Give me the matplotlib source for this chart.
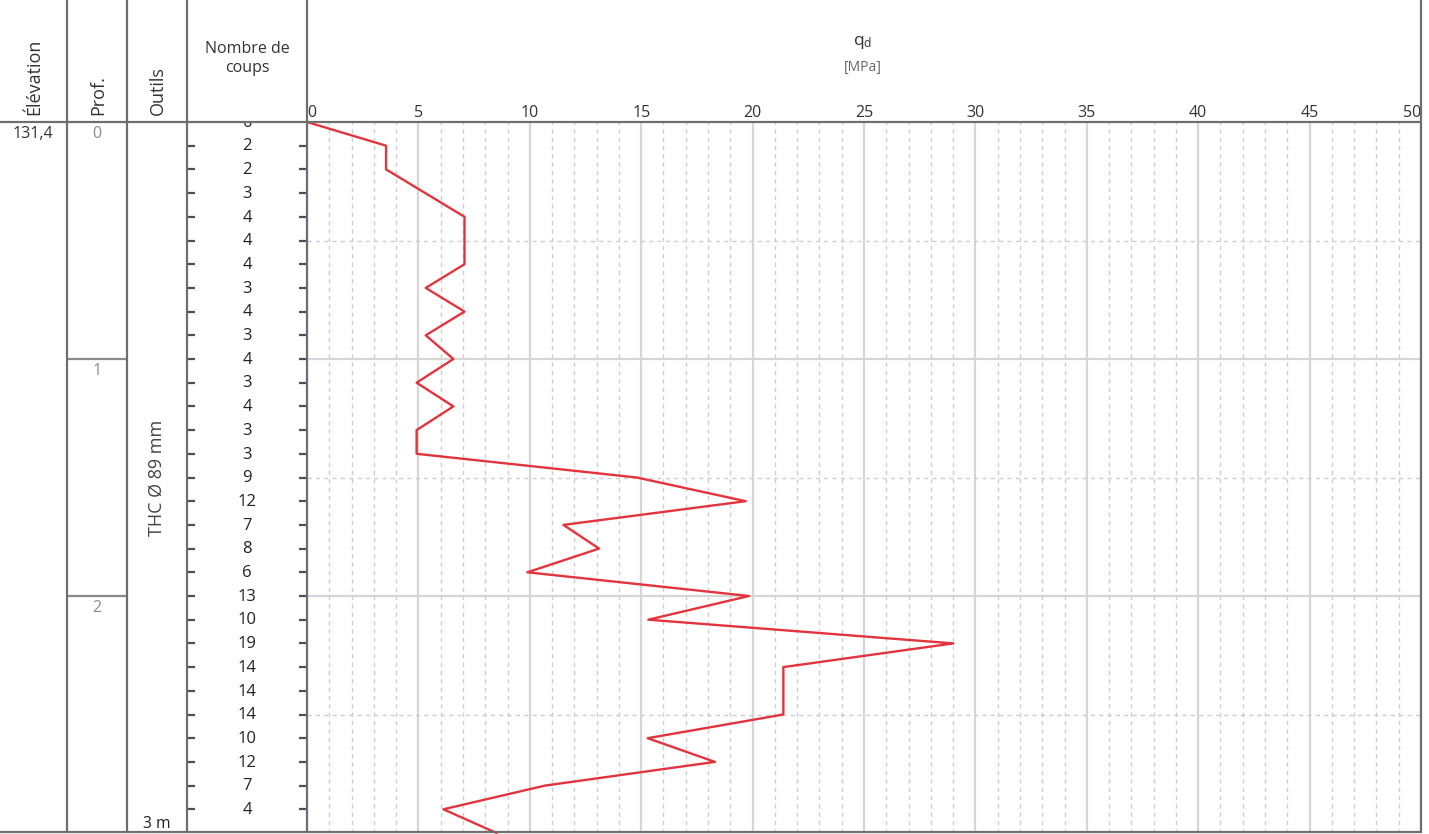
import matplotlib
matplotlib.use("Agg")
import matplotlib.pyplot as plt

plt.rcParams['font.family'] = ['Open Sans', 'DejaVu Sans']
plt.rcParams['mathtext.fontset'] = 'custom'
plt.rcParams['mathtext.rm'] = 'Open Sans'
plt.rcParams['mathtext.it'] = 'Open Sans:italic'

# ---------------- data ----------------
coups_depth = [0.0, 0.1, 0.2, 0.3, 0.4, 0.5, 0.6, 0.7, 0.8, 0.9,
               1.0, 1.1, 1.2, 1.3, 1.4, 1.5, 1.6, 1.7, 1.8, 1.9,
               2.0, 2.1, 2.2, 2.3, 2.4, 2.5, 2.6, 2.7, 2.8, 2.9]
coups = [0, 2, 2, 3, 4, 4, 4, 3, 4, 3,
         4, 3, 4, 3, 3, 9, 12, 7, 8, 6,
         13, 10, 19, 14, 14, 14, 10, 12, 7, 4]

qd_depth = [0.0, 0.1, 0.2, 0.3, 0.4, 0.5, 0.6, 0.7, 0.8, 0.9,
            1.0, 1.1, 1.2, 1.3, 1.4, 1.5, 1.6, 1.7, 1.8, 1.9,
            2.0, 2.1, 2.2, 2.3, 2.4, 2.5, 2.6, 2.7, 2.8, 2.9, 3.0]
qd = [0.0, 3.55, 3.55, 5.31, 7.07, 7.07, 7.07, 5.33, 7.07, 5.33,
      6.57, 4.92, 6.57, 4.92, 4.92, 14.80, 19.69, 11.51, 13.11, 9.89,
      19.84, 15.32, 29.01, 21.38, 21.38, 21.38, 15.29, 18.31, 10.68, 6.12, 8.51]

prof_marks = [0, 1, 2]
prof_labels = ['0', '1', '2']
qd_ticks = [0, 5, 10, 15, 20, 25, 30, 35, 40, 45, 50]
qd_minor = [v for v in range(1, 50) if v % 5 != 0]
elevation = '131,4'
outil = 'THC Ø 89 mm'
depth_max = 3

# ---------------- layout ----------------
W, H = 1429, 834
fig = plt.figure(figsize=(W / 100, H / 100), dpi=100)


def rect(x0, y0, x1, y1):
    return [x0 / W, 1 - y1 / H, (x1 - x0) / W, (y1 - y0) / H]


Y0, Y1 = 122, 833
COLS = [0, 67, 127, 187, 307, 1421]
BORDER = '#6e6e6e'
RED = '#e3343d'

# qd axes
ax = fig.add_axes(rect(COLS[4], Y0, COLS[5], Y1))
ax.set_facecolor('none')
ax.set_xlim(0, 50)
ax.set_ylim(depth_max, 0)
ax.set_xticks(qd_ticks)
ax.set_xticklabels([str(t) for t in qd_ticks])
ax.set_xticks(qd_minor, minor=True)
ax.set_yticks([1, 2])
ax.set_yticks([0.5, 1.5, 2.5], minor=True)
ax.xaxis.tick_top()
ax.tick_params(axis='x', which='both', length=0, pad=1, labelsize=11.5, labelcolor='#333333')
ax.tick_params(axis='y', which='both', length=0, labelleft=False)
labels = ax.get_xticklabels()
labels[0].set_ha('left')
labels[-1].set_ha('right')
ax.grid(which='major', axis='both', color='#d6d6d6', lw=1.6, ls='-')
ax.grid(which='minor', axis='both', color='#cdcdcd', lw=1.0, ls=(0, (3, 3)))
for s in ax.spines.values():
    s.set_visible(False)
ax.plot(qd, qd_depth, color=RED, lw=1.7, zorder=5, clip_on=False)

# nombre de coups axes
axc = fig.add_axes(rect(COLS[3], Y0, COLS[4], Y1))
axc.set_facecolor('none')
axc.set_xlim(0, 1)
axc.set_ylim(depth_max, 0)
axc.set_xticks([])
axc.set_yticks(coups_depth[1:])
axc.tick_params(axis='y', direction='in', length=6, width=1.6, color='#4a4f5c',
                left=True, right=True, labelleft=False, labelright=False)
for s in axc.spines.values():
    s.set_visible(False)
for d, c in zip(coups_depth, coups):
    axc.text(0.5, d + 0.003, str(c), ha='center', va='center', fontsize=12,
             color='#222222', clip_on=True)

# prof axes
axp = fig.add_axes(rect(COLS[1], Y0, COLS[2], Y1))
axp.set_facecolor('none')
axp.set_xlim(0, 1)
axp.set_ylim(depth_max, 0)
axp.axis('off')
for d, lab in zip(prof_marks, prof_labels):
    if d > 0:
        axp.axhline(d, color='#8a8a8a', lw=1.6)
    axp.text(0.5, d + 0.018, lab, ha='center', va='top', fontsize=11.5, color='#8c8c8c')

# outils axes
axo = fig.add_axes(rect(COLS[2], Y0, COLS[3], Y1))
axo.set_facecolor('none')
axo.set_xlim(0, 1)
axo.set_ylim(depth_max, 0)
axo.axis('off')
axo.text(0.5, depth_max / 2, outil, rotation=90, ha='center', va='center',
         fontsize=13, color='#444444')
axo.text(0.5, depth_max - 0.005, f'{depth_max} m', ha='center', va='bottom',
         fontsize=11.3, color='#222222')

# overlay: borders and header
ov = fig.add_axes([0, 0, 1, 1], zorder=10)
ov.set_facecolor('none')
ov.set_xlim(0, W)
ov.set_ylim(H, 0)
ov.axis('off')
for x in COLS[1:]:
    ov.plot([x, x], [0, Y1], color=BORDER, lw=1.6, solid_capstyle='butt')
ov.plot([0, COLS[5]], [Y0, Y0], color=BORDER, lw=1.6, solid_capstyle='butt')
ov.plot([0, COLS[5]], [Y1 - 1, Y1 - 1], color=BORDER, lw=1.6, solid_capstyle='butt')

hc = '#333333'
ov.text(34, 115, 'Élévation', rotation=90, ha='center', va='bottom', fontsize=13, color=hc)
ov.text(98, 115, 'Prof.', rotation=90, ha='center', va='bottom', fontsize=13, color=hc)
ov.text(158, 115, 'Outils', rotation=90, ha='center', va='bottom', fontsize=13, color=hc)
ov.text(247, 58, 'Nombre de\ncoups', ha='center', va='center', fontsize=11.5,
        color=hc, linespacing=1.25)
ov.text(863, 42, r'q$_{\mathrm{d}}$', ha='center', va='center', fontsize=12.5, color=hc)
ov.text(863, 67, '[MPa]', ha='center', va='center', fontsize=10, color='#666666')
ov.text(33, 126, elevation, ha='center', va='top', fontsize=11.5, color=hc)

fig.savefig('out.png', dpi=100)
